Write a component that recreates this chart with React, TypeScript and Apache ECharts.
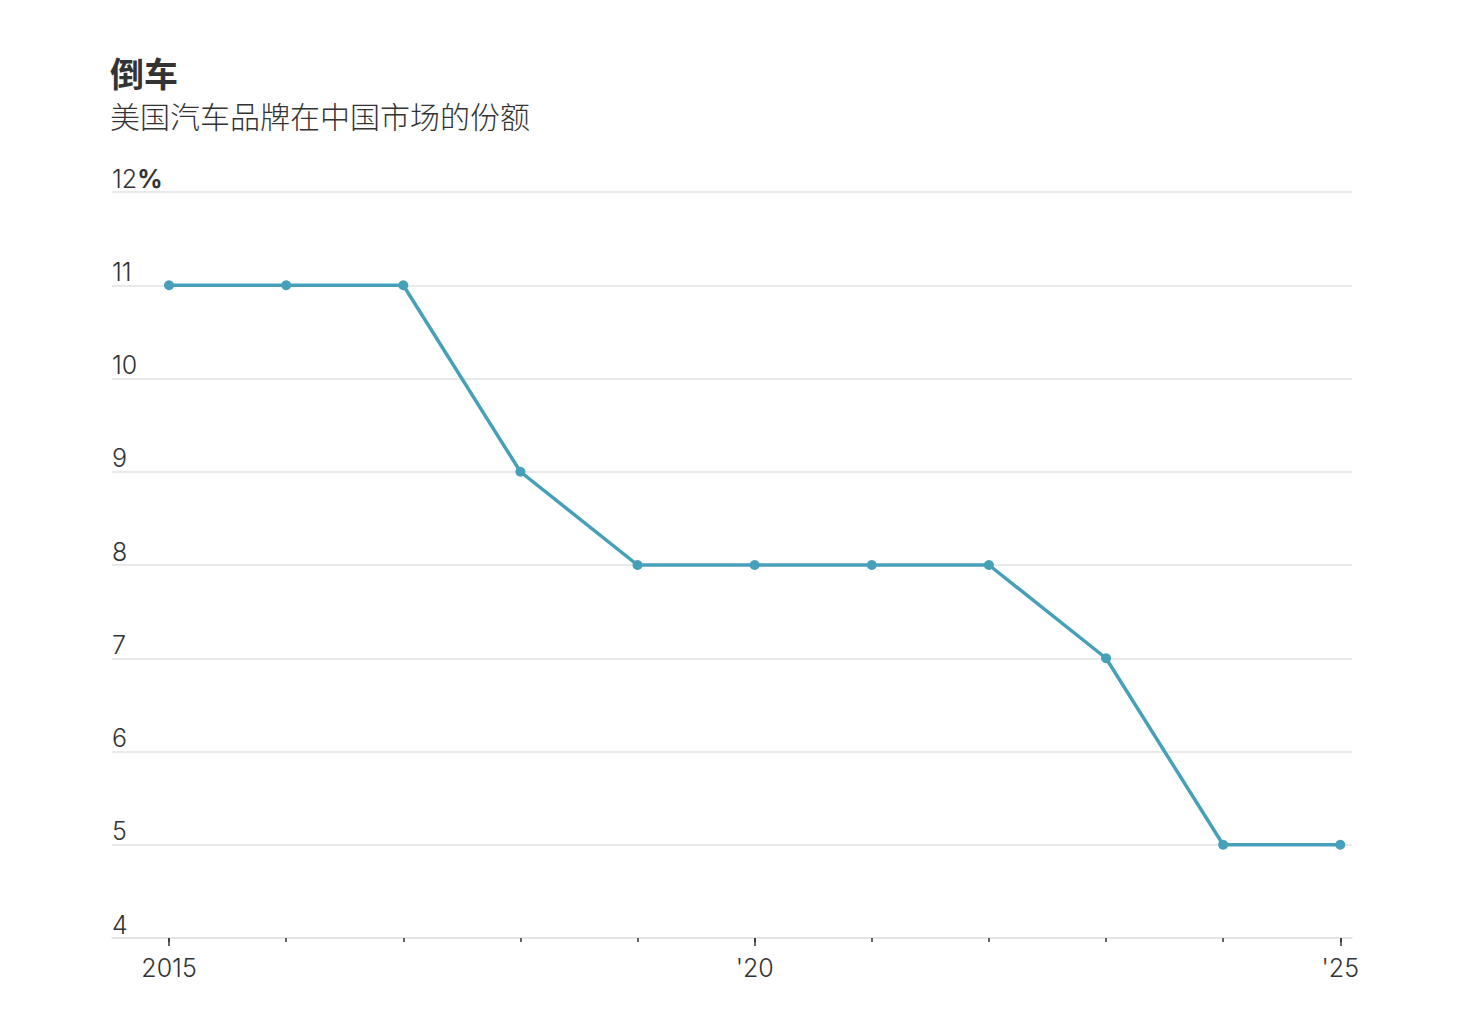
import { useEffect, useRef } from 'react';
import * as echarts from 'echarts';
import type { ECharts, EChartsOption } from 'echarts';

// 数据
const years = [2015, 2016, 2017, 2018, 2019, 2020, 2021, 2022, 2023, 2024, 2025];
const share = [11, 11, 11, 9, 8, 8, 8, 8, 7, 5, 5];
const majorYears = [2015, 2020, 2025];
const yTicks = [4, 5, 6, 7, 8, 9, 10, 11, 12];

const TITLE = '倒车';
const SUBTITLE = '美国汽车品牌在中国市场的份额';

const LINE_COLOR = '#47a0b9';
const TEXT_COLOR = '#333333';
const GRID_COLOR = '#e2e2e2';
const NUM_FONT = 'Inter, "Noto Sans CJK SC", sans-serif';
const CJK_FONT = '"Noto Sans CJK SC", sans-serif';

const yearLabel = (v: number) => (v === 2015 ? '2015' : "'" + String(v).slice(2));

const App = () => {
    const chartRef = useRef<HTMLDivElement>(null);
    const chartInstance = useRef<ECharts | null>(null);

    useEffect(() => {
        if (!chartRef.current) return;
        chartInstance.current = echarts.init(chartRef.current, undefined, { renderer: 'svg' });

        const xMin = 2014.513;
        const xMax = 2025.1;

        const option: EChartsOption = {
            animation: false,
            backgroundColor: '#ffffff',
            // 标题和副标题分开放，避免文字框重叠
            title: [
                {
                    text: TITLE,
                    left: 110,
                    top: 55,
                    padding: 0,
                    textStyle: {
                        fontFamily: CJK_FONT,
                        fontSize: 34,
                        lineHeight: 34,
                        fontWeight: 'bold',
                        color: TEXT_COLOR
                    }
                },
                {
                    text: SUBTITLE,
                    left: 110,
                    top: 100,
                    padding: 0,
                    textStyle: {
                        fontFamily: CJK_FONT,
                        fontSize: 30,
                        lineHeight: 30,
                        fontWeight: 300,
                        color: TEXT_COLOR
                    }
                }
            ],
            grid: {
                left: 112,
                right: 114,
                top: 192,
                bottom: 78,
                containLabel: false
            },
            xAxis: [
                {
                    type: 'value',
                    min: xMin,
                    max: xMax,
                    axisLine: { show: true, lineStyle: { color: GRID_COLOR, width: 1.5 } },
                    axisTick: {
                        show: true,
                        customValues: years,
                        length: 4,
                        lineStyle: { color: TEXT_COLOR, width: 1.5 }
                    },
                    axisLabel: { show: false },
                    splitLine: { show: false }
                },
                {
                    type: 'value',
                    position: 'bottom',
                    min: xMin,
                    max: xMax,
                    axisLine: { show: false },
                    axisTick: {
                        show: true,
                        customValues: majorYears,
                        length: 8,
                        lineStyle: { color: TEXT_COLOR, width: 1.5 }
                    },
                    axisLabel: {
                        show: true,
                        customValues: majorYears,
                        margin: 17,
                        formatter: (v: number) => yearLabel(v),
                        fontFamily: NUM_FONT,
                        fontSize: 25,
                        fontWeight: 300,
                        color: TEXT_COLOR
                    },
                    splitLine: { show: false }
                }
            ],
            yAxis: {
                type: 'value',
                min: 4,
                max: 12,
                interval: 1,
                axisLine: { show: false },
                axisTick: { show: false },
                splitLine: { show: true, lineStyle: { color: GRID_COLOR, width: 1.5 } },
                axisLabel: {
                    inside: true,
                    margin: 0,
                    verticalAlign: 'bottom',
                    padding: [0, 0, 1, 0],
                    formatter: (v: number) => (v === yTicks[yTicks.length - 1] ? v + '{b|%}' : String(v)),
                    fontFamily: NUM_FONT,
                    fontSize: 25,
                    fontWeight: 300,
                    color: TEXT_COLOR,
                    rich: {
                        b: {
                            fontFamily: NUM_FONT,
                            fontSize: 25,
                            fontWeight: 'bold',
                            color: TEXT_COLOR
                        }
                    }
                }
            },
            series: [
                {
                    type: 'line',
                    xAxisIndex: 0,
                    data: years.map((y, i) => [y, share[i]]),
                    symbol: 'circle',
                    symbolSize: 10,
                    showSymbol: true,
                    lineStyle: { color: LINE_COLOR, width: 3.5 },
                    itemStyle: { color: LINE_COLOR },
                    z: 5
                }
            ]
        };

        chartInstance.current.setOption(option, true);

        return () => {
            chartInstance.current?.dispose();
            chartInstance.current = null;
        };
    }, []);

    return (
        <div
            ref={chartRef}
            style={{
                position: 'absolute',
                left: 0,
                top: 0,
                width: '1466px',
                height: '1016px'
            }}
        />
    );
};

export default App;
